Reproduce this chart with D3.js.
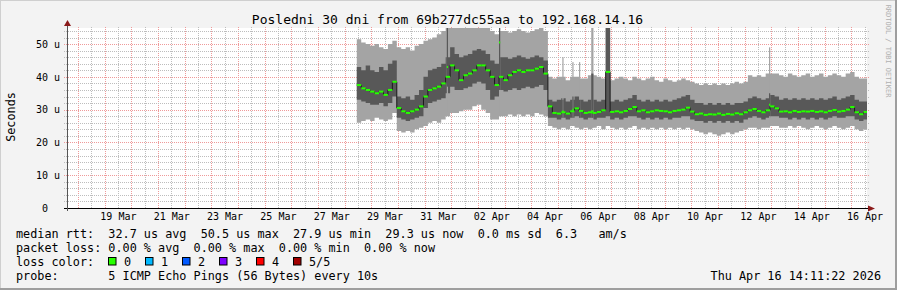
<!DOCTYPE html>
<html><head><meta charset="utf-8">
<script src="https://cdn.jsdelivr.net/npm/d3@7"></script>
<style>
body{margin:0;background:#f3f3f3}
svg text{font-family:"DejaVu Sans Mono",monospace;white-space:pre}
</style></head><body>
<svg id="c" width="897" height="290"></svg>
<script>
// ---------------- data ----------------
const chartTitle = "Posledni 30 dni from 69b277dc55aa to 192.168.14.16";
const yLabel = "Seconds";
const yTicks = [0, 10, 20, 30, 40, 50];
const yMinorTicks = [2,4,6,8,12,14,16,18,22,24,26,28,32,34,36,38,42,44,46,48,52,54];
const yMax = 54.9;
const xLabelDates = ["2026-03-19","2026-03-21","2026-03-23","2026-03-25","2026-03-27","2026-03-29","2026-03-31",
  "2026-04-02","2026-04-04","2026-04-06","2026-04-08","2026-04-10","2026-04-12","2026-04-14","2026-04-16"];
const rangeStart = Date.UTC(2026, 2, 17, 14, 11, 22);
const rangeEnd   = Date.UTC(2026, 3, 16, 14, 11, 22);
const dataStart  = Date.UTC(2026, 2, 28, 11, 0, 0);
const stepHours  = 4;

// five sorted pings per 4-hour step (us): min, 2nd, median, 4th, max
const pingMax = [51.5,50.5,50,49.5,50,49,48.5,50,51,
  49,48.5,49,48,49.5,50,
  51,51.5,52,53,54,56,56,56,
  56,56,55.5,56,56,55,55,54,
  53,54,54,53.5,54,54.5,54,53.5,54,54.5,55,54,
  40,
  39.5,40,40,39,40,40,39.5,39.5,40.5,40.5,40,39.5,56,39,39.5,40,39.5,39,40,39.5,
  39,39.5,40,39,38.5,39.5,39,38.5,39,39.5,39,38.5,38,37.5,38,37.5,38,37.5,38,37.5,38,38.5,38,38.5,
  40.5,40,40.5,40,41,41,41,40.5,40,41,40.5,40,40.5,41,40,40.5,41,40,40.5,41,40.5,40,41,41.5,40,39.5,39.5];
const ping4 = [43,42,43.5,42,41.5,43,42,44,45,
  34,33.5,34,33,34.5,36,
  40,42,42.5,43,44,46,49,47,
  46,46.5,47,48,48.5,48,47,45,
  44,46,46,45.5,46,46.5,46,45.5,46,46.5,46,45,
  33,
  32.5,33,33.5,32.5,33,34,33,32.5,33,33,32.5,33,56,32.5,33,32.5,33,33.5,34.5,33,
  32.5,33,32.5,33,32.5,33,32.5,33,33.5,34,34.5,33,32,32,31.5,32,31.5,32,31.5,32,31.5,32,32,32.5,
  33.5,34,33.5,33,33.5,34.5,34,33,33.5,33,33.5,33,33.5,33,33.5,33,33.5,33,33.5,34,33,33.5,34,34.5,33,32.5,32.5];
const median = [37.5,36.5,36,35.5,35,35.5,34.5,36,38.5,
  30.5,29.5,29,29.5,30,31,
  34,36,36.5,37,38,40,43.5,42,
  39,40.5,41,42,43.5,43.5,42,40,
  37.5,40,39,40.5,41.5,42,41.5,42,42,42.5,43,41,
  31,
  29,28.8,29.2,28.8,29.5,30.4,29.6,29,29.2,29,29.3,29.8,41.5,29.3,29.5,29.2,29.6,30.2,30.8,29.5,
  29.8,29.2,29.5,29.8,29.6,29.5,29.2,29.6,29.8,30,30.6,29.4,28.6,28.8,28.4,28.6,28.5,28.8,28.4,28.7,28.5,28.9,28.6,29.2,
  29.8,30.2,29.6,29.2,29.8,31,30.4,29.4,29.5,29.2,29.6,29.3,29.5,29.4,29.6,29.3,29.5,29.2,29.6,29.9,29.4,29.6,30,30.8,29.2,28.6,29.3];
const ping2 = [33,32.5,32,31.5,31.5,32,31,32,34,
  27.5,27,26.5,27,27.5,28,
  30.5,32,32.5,33,33.5,35,37,36,
  36,36.5,37,38,38.5,38,36,33,
  34,36,35.5,36,36.5,36,36.5,37,36.5,37,37.5,36,
  27.5,
  27.5,27,27.5,27,27.5,28,27.5,27,27.5,27,27.5,27.5,28,27,27.5,27,27.5,28,28,27.5,
  27,27.5,27,27.5,27,27.5,27,27.5,27.5,28,28,27,26.5,26.5,26,26.5,26,26.5,26,26.5,26,26.5,26,27,
  27.5,28,27.5,27,27.5,28,28,27.5,27.5,27,27.5,27,27.5,27,27.5,27,27.5,27,27.5,28,27.5,27.5,28,28,27,26.5,27];
const pingMin = [26,26.5,27,26.5,27.5,27,26.5,27,29,
  23.5,23,23.5,23,24,24.5,
  25,26,26.5,26,27,28,29,29,
  29.5,30,30,31,31.5,30,29,27,
  27,28,28,28.5,28,28.5,28,28.5,28,29,28.5,28,
  25,
  24.5,24,24.5,24,25,24.5,24,24.5,24,24.5,25,24,25,24.5,24,24.5,24,24.5,25,24,
  24.5,24,24.5,24,24.5,24,24.5,24,24.5,24,24.5,24,23.5,23,22.5,23,22.5,22,22.5,23,22.5,23,23.5,24,
  24.5,24.5,24,24.5,24.5,25,25,24.5,24.5,25,24.5,25,24.5,24,24.5,25,24.5,24,24.5,25,24.5,24,24.5,25,24,23.5,24];

// short (1-2 hour) outliers, hours after dataStart
const spikeHour = [81, 128, 185, 194, 200, 211, 371];
const spikeDur  = [1, 1, 1, 1, 1, 2, 1];
const spikeMin  = [29, 28, 25, 25, 25, 24.5, 25];
const spike2    = [37, 36, 27.5, 27.5, 27.5, 27.5, 28];
const spikeMed  = [43, 50.5, 29.5, 30, 29.5, 29.5, 31.5];
const spike4    = [56, 56, 33, 34, 33, 41, 35];
const spikeMax  = [56, 56, 46, 44.5, 44.5, 56, 49];

const legendLines = [
  "median rtt:  32.7 us avg  50.5 us max  27.9 us min  29.3 us now  0.0 ms sd  6.3   am/s",
  "packet loss: 0.00 % avg  0.00 % max  0.00 % min  0.00 % now",
  "loss color:",
  "probe:       5 ICMP Echo Pings (56 Bytes) every 10s"
];
const lossLabels = ["0", "1", "2", "3", "4", "5/5"];
const lossColors = ["#26ff00", "#00b8ff", "#0059ff", "#7e00ff", "#ff0000", "#a10000"];
const dateStamp = "Thu Apr 16 14:11:22 2026";
const watermark = "RRDTOOL / TOBI OETIKER";

// ---------------- drawing ----------------
const W = 897, H = 290;
const L = 67, R = 867, T = 28, B = 208;
const svg = d3.select("#c");

svg.append("rect").attr("width", W).attr("height", H).attr("fill", "#f3f3f3");
svg.append("path").attr("d", `M0,${H} V0 H${W}`).attr("fill", "none").attr("stroke", "#cfcfcf").attr("stroke-width", 2);
svg.append("path").attr("d", `M0,${H-1} H${W-1} V0`).attr("fill", "none").attr("stroke", "#9e9e9e").attr("stroke-width", 2);

svg.append("rect").attr("x", L).attr("y", T).attr("width", R - L).attr("height", B - T).attr("fill", "#fff");

const x = d3.scaleUtc().domain([new Date(rangeStart), new Date(rangeEnd)]).range([L, R]);
const y = d3.scaleLinear().domain([0, yMax]).range([B, T]);

const minorColor = "#bdbdbd", majorColor = "#ef9a9a";
function styleGrid(g, color) {
  g.select(".domain").remove();
  g.selectAll("line").attr("stroke", color).attr("stroke-dasharray", "1,1").attr("shape-rendering", "crispEdges");
}
const noonTicks = d3.utcHour.every(12).range(new Date(rangeStart), new Date(rangeEnd)).filter(d => d.getUTCHours() === 12);
const dayTicks = d3.utcDay.range(new Date(rangeStart), new Date(rangeEnd));
svg.append("g").attr("transform", `translate(0,${B})`)
  .call(d3.axisBottom(x).tickValues(noonTicks).tickSize(-(B - T + 2)).tickFormat(""))
  .call(g => styleGrid(g, minorColor));
svg.append("g").attr("transform", `translate(0,${B})`)
  .call(d3.axisBottom(x).tickValues(dayTicks).tickSize(-(B - T + 2)).tickFormat(""))
  .call(g => styleGrid(g, majorColor));
svg.append("g").attr("transform", `translate(${L - 3},0)`)
  .call(d3.axisRight(y).tickValues(yMinorTicks).tickSize(R - L + 6).tickFormat(""))
  .call(g => styleGrid(g, minorColor));
svg.append("g").attr("transform", `translate(${L - 3},0)`)
  .call(d3.axisRight(y).tickValues(yTicks.filter(v => v > 0)).tickSize(R - L + 6).tickFormat(""))
  .call(g => styleGrid(g, majorColor));

// data
svg.append("clipPath").attr("id", "clip").append("rect").attr("x", L).attr("y", T).attr("width", R - L).attr("height", B - T);
const stepMs = stepHours * 3600e3, hourMs = 3600e3;
const pts = median.map((m, i) => ({
  t: new Date(dataStart + i * stepMs), t1: new Date(dataStart + (i + 1) * stepMs),
  lo: pingMin[i], p2: ping2[i], md: m, p4: ping4[i], hi: pingMax[i]
}));
const ext = pts.concat([{ ...pts[pts.length - 1], t: pts[pts.length - 1].t1 }]);
const spikes = spikeHour.map((h, k) => ({
  t: new Date(dataStart + h * hourMs), t1: new Date(dataStart + (h + spikeDur[k]) * hourMs),
  lo: spikeMin[k], p2: spike2[k], md: spikeMed[k], p4: spike4[k], hi: spikeMax[k]
}));
const plot = svg.append("g").attr("clip-path", "url(#clip)");
const band = (a, b) => d3.area().curve(d3.curveStepAfter).x(d => x(d.t)).y0(d => y(d[a])).y1(d => y(d[b]));
const outerC = "#a4a4a4", innerC = "#585858";
plot.append("path").datum(ext).attr("d", band("lo", "hi")).attr("fill", outerC);
plot.append("path").datum(ext).attr("d", band("p2", "p4")).attr("fill", innerC);
const spikeRect = (sel, a, b, c) => sel.append("g").selectAll("rect").data(spikes).join("rect")
  .attr("x", d => x(d.t)).attr("width", d => Math.max(1.2, x(d.t1) - x(d.t)))
  .attr("y", d => y(d[b])).attr("height", d => y(d[a]) - y(d[b])).attr("fill", c);
spikeRect(plot, "lo", "hi", outerC);
spikeRect(plot, "p2", "p4", innerC);
plot.append("path").datum(ext)
  .attr("d", d3.line().curve(d3.curveStepAfter).x(d => x(d.t)).y(d => y(d.md)))
  .attr("fill", "none").attr("stroke", "#1a1a1a").attr("stroke-width", 1);
plot.append("g").selectAll("rect").data(pts.concat(spikes)).join("rect")
  .attr("x", d => x(d.t)).attr("width", d => Math.max(1.2, x(d.t1) - x(d.t)))
  .attr("y", d => y(d.md) - 1).attr("height", 2).attr("fill", lossColors[0]);

// axes
const xAxis = svg.append("g").attr("transform", `translate(0,${B})`)
  .call(d3.axisBottom(x).tickValues(xLabelDates.map(s => new Date(s + "T12:00:00Z")))
    .tickSize(0).tickPadding(5).tickFormat(d3.utcFormat("%d %b")));
xAxis.select(".domain").remove();
xAxis.selectAll("text").attr("font-size", 10).attr("fill", "#000").attr("font-family", "DejaVu Sans Mono");

const yAxis = svg.append("g").attr("transform", `translate(${L},0)`)
  .call(d3.axisLeft(y).tickValues(yTicks).tickSize(0).tickPadding(7)
    .tickFormat(v => v === 0 ? "0  " : `${v} u`));
yAxis.select(".domain").remove();
yAxis.selectAll("text").attr("font-size", 10).attr("fill", "#000").attr("font-family", "DejaVu Sans Mono");

svg.append("line").attr("x1", L - 3).attr("x2", R + 2).attr("y1", B + 0.5).attr("y2", B + 0.5)
  .attr("stroke", "#000").attr("stroke-width", 1);
svg.append("line").attr("x1", L + 0.5).attr("x2", L + 0.5).attr("y1", B + 3).attr("y2", T - 3)
  .attr("stroke", "#555").attr("stroke-width", 1);
svg.append("path").attr("d", `M${R + 1},${B - 2.5} L${R + 8},${B + 0.5} L${R + 1},${B + 3.5} Z`).attr("fill", "#8b1a1a");
svg.append("path").attr("d", `M${L - 3},${T - 2} L${L + 0.5},${T - 8} L${L + 4},${T - 2} Z`).attr("fill", "#8b1a1a");

// titles
svg.append("text").attr("x", 447.5).attr("y", 24).attr("text-anchor", "middle")
  .attr("font-size", 13).attr("fill", "#000").text(chartTitle);
svg.append("text").attr("transform", "translate(15,117) rotate(-90)").attr("text-anchor", "middle")
  .attr("font-size", 11.8).attr("fill", "#000").text(yLabel);
svg.append("text").attr("transform", "translate(886,51) rotate(90)").attr("text-anchor", "middle")
  .attr("font-size", 7).attr("fill", "#b0b0b0").text(watermark);

// legend
const lineY = [237.5, 251.5, 265.5, 279.5];
legendLines.forEach((s, i) => {
  svg.append("text").attr("x", 16).attr("y", lineY[i]).attr("font-size", 11.8).attr("fill", "#000").text(s);
});
const lg = svg.append("g");
lossLabels.forEach((lab, k) => {
  const bx = 108.5 + k * 37;
  lg.append("rect").attr("x", bx).attr("y", 257.5).attr("width", 7.5).attr("height", 7.5)
    .attr("fill", lossColors[k]).attr("stroke", "#000").attr("stroke-width", 1);
  lg.append("text").attr("x", bx + 15.5).attr("y", lineY[2]).attr("font-size", 11.8).attr("fill", "#000").text(lab);
});
svg.append("text").attr("x", 881).attr("y", lineY[3]).attr("text-anchor", "end")
  .attr("font-size", 11.8).attr("fill", "#000").text(dateStamp);
</script>
</body></html>
